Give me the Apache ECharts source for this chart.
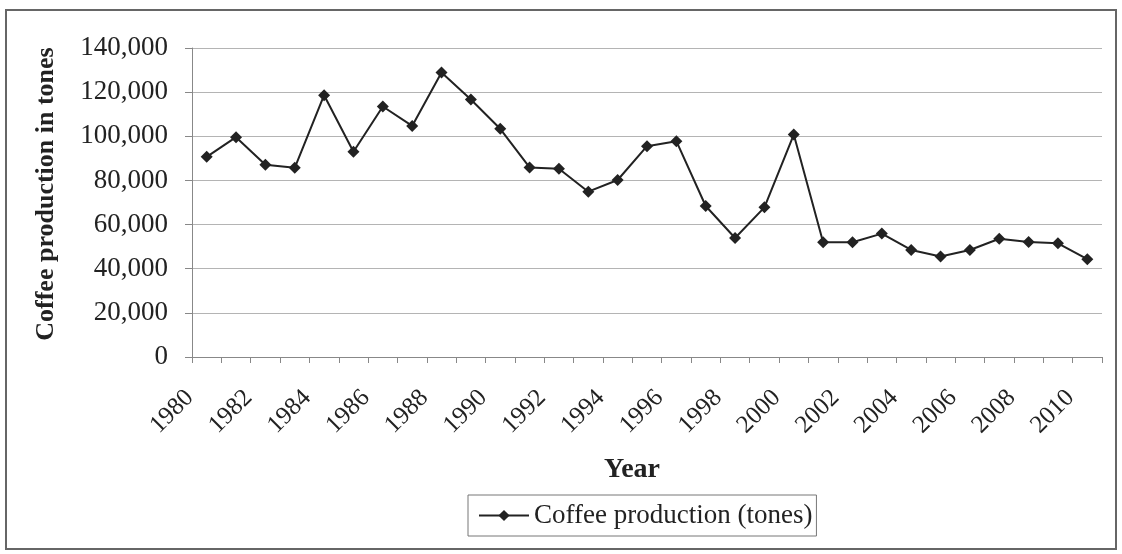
<!DOCTYPE html>
<html>
<head>
<meta charset="utf-8">
<script src="https://cdn.jsdelivr.net/npm/echarts@6/dist/echarts.min.js"></script>
<style>
  html, body { margin: 0; padding: 0; background: #fff; }
  #frame {
    position: absolute; left: 5px; top: 9px; width: 1112px; height: 541px;
    border: 2px solid #666; box-sizing: border-box;
  }
  #chart { position: absolute; left: 0; top: 0; width: 1122px; height: 554px; }
</style>
</head>
<body>
<div id="frame"></div>
<div id="chart"></div>
<script>
var years = [];
for (var y = 1980; y <= 2010; y++) years.push(String(y));

// Coffee production (tones)
var production = [
  90700, 99600, 87100, 85700, 118600, 93000, 113500, 104700, 128900, 116700,
  103400, 85900, 85300, 74900, 80200, 95500, 97800, 68400, 53900, 67800,
  100800, 52000, 52000, 55900, 48500, 45500, 48500, 53600, 52100, 51500,
  44300
];

var yTicks = [0, 20000, 40000, 60000, 80000, 100000, 120000, 140000];

var serif = '"Liberation Serif", "DejaVu Serif", serif';

var myChart = echarts.init(document.getElementById('chart'));

var option = {
  animation: false,
  textStyle: { fontFamily: serif },
  grid: {
    left: 192,
    right: 20,
    top: 48,
    bottom: 197
  },
  legend: {
    data: ['Coffee production (tones)'],
    left: 468,
    top: 495,
    padding: [7, 4, 7, 10],
    borderColor: '#777',
    borderWidth: 1,
    itemWidth: 50,
    itemHeight: 14,
    textStyle: { fontFamily: serif, fontSize: 27, color: '#222' }
  },
  graphic: [{
    type: 'text',
    x: 46,
    y: 194,
    rotation: Math.PI / 2,
    style: {
      text: 'Coffee production in tones',
      fontFamily: serif,
      fontSize: 26,
      fontWeight: 'bold',
      fill: '#222',
      align: 'center',
      verticalAlign: 'middle'
    }
  }],
  xAxis: {
    type: 'category',
    data: years,
    name: 'Year',
    nameLocation: 'middle',
    nameGap: 99,
    nameTextStyle: { fontFamily: serif, fontSize: 28, fontWeight: 'bold', color: '#222', padding: [0, 30, 0, 0] },
    axisLine: { lineStyle: { color: '#888', width: 1 } },
    axisTick: { show: true, interval: 0, length: 6, lineStyle: { color: '#888' } },
    axisLabel: {
      interval: 1,
      rotate: 45,
      margin: 20,
      padding: [0, 24, 0, 0],
      fontFamily: serif,
      fontSize: 25,
      color: '#222'
    },
    splitLine: { show: false }
  },
  yAxis: {
    type: 'value',
    min: yTicks[0],
    max: yTicks[yTicks.length - 1],
    interval: 20000,
    axisLine: { show: true, lineStyle: { color: '#888', width: 1 } },
    axisTick: { show: true, length: 7, lineStyle: { color: '#888' } },
    axisLabel: {
      margin: 24,
      fontFamily: serif,
      fontSize: 27,
      color: '#222',
      formatter: function (v) { return v.toLocaleString('en-US'); }
    },
    splitLine: { show: true, lineStyle: { color: '#b4b4b4', width: 1 } }
  },
  series: [{
    type: 'line',
    name: 'Coffee production (tones)',
    data: production,
    symbol: 'diamond',
    symbolSize: 12,
    lineStyle: { color: '#222', width: 2 },
    itemStyle: { color: '#222' }
  }]
};

myChart.setOption(option);
</script>
</body>
</html>
